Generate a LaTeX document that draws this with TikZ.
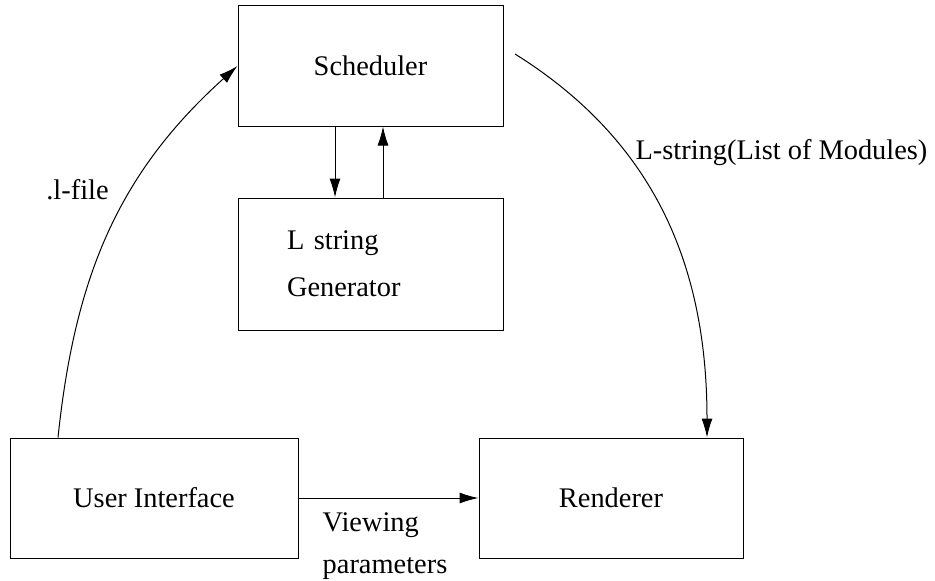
\documentclass[tikz,border=0pt]{standalone}
\usepackage{fontspec}
\setmainfont{Liberation Serif}
\usetikzlibrary{arrows.meta}
\newcommand{\heightbox}{60pt}
\newcommand{\widthsched}{132.5pt}
\tikzset{
    common/.style={draw, rectangle, line width=0.5pt, minimum height=\heightbox, inner sep=0pt},
    box/.style={common, font=\fontsize{14.2}{17}\selectfont},
    lbl/.style={font=\fontsize{14.2}{17}\selectfont, inner sep=0pt},
    flow/.style={-{Latex[length=9.5pt, width=5.5pt]}, line width=0.5pt}
}
\begin{document}
\begin{tikzpicture}[x=0.5pt, y=0.5pt]
    \useasboundingbox (0,0) rectangle (935,580);

    % boxes
    \node[box, minimum width=\widthsched] (sched) at (370.5,514) {Scheduler};
    \node[box, minimum width=\widthsched, minimum height=66pt, inner xsep=24.5pt,
          text width=83.5pt, align=left, font=\fontsize{14.2}{23.5}\selectfont] (gen) at (370.5,316) {L string\\Generator};
    \node[box, minimum width=144pt] (ui) at (154,82) {User Interface};
    \node[box, minimum width=132pt] (rend) at (611,82) {Renderer};

    % free ends of the curves
    \coordinate (uiout) at (58,0 |- ui.north);
    \coordinate (schedout) at (515,526);
    \coordinate (rendin) at (707,0 |- rend.north);

    \draw[flow] (uiout) to[out=84, in=222] (sched.west);
    \draw[flow] (schedout) to[out=-32, in=90] (rendin);
    \draw[flow] (335,0 |- sched.south) -- (335,0 |- gen.north);
    \draw[flow] (383,0 |- gen.north) -- (383,0 |- sched.south);
    \draw[flow] (ui.east) -- (rend.west);

    % labels
    \node[lbl] (lfile) at (77.5,390) {.l-file};
    \node[lbl] (lstring) at (781.5,427) {L-string(List of Modules)};
    \node[lbl, align=left, font=\fontsize{14.2}{21}\selectfont] (viewing) at (385,34) {Viewing\\parameters};
\end{tikzpicture}
\end{document}
